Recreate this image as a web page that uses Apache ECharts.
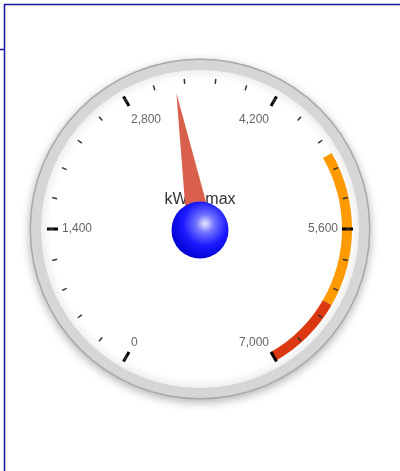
<!DOCTYPE html>
<html>
<head>
<meta charset="utf-8">
<script src="https://cdn.jsdelivr.net/npm/echarts@6/dist/echarts.min.js"></script>
<style>
  html, body { margin: 0; padding: 0; background: #fff; }
  #main { width: 400px; height: 471px; }
</style>
</head>
<body>
<div id="main"></div>
<script>
var chartDom = document.getElementById('main');
var myChart = echarts.init(chartDom);

// 数据
var axisMin = 0;
var axisMax = 7000;
var axisSplits = 5; // 0, 1400, 2800, 4200, 5600, 7000
var needleValue = [3270];
var titleText = 'kW/h max';
var bandFrom = [4900, 6300]; // 色带起点
var bandTo = [6300, 7000]; // 色带终点
var bandColor = ['#ff9900', '#dc3912'];

var cx = 200, cy = 229; // 表盘中心

function fmt(v) { // 千分位
    return String(Math.round(v)).replace(/\B(?=(\d{3})+(?!\d))/g, ',');
}

// 把色带换成 axisLine 的分段颜色
var lineColors = [];
var last = axisMin;
for (var i = 0; i < bandFrom.length; i++) {
    if (bandFrom[i] > last) {
        lineColors.push([(bandFrom[i] - axisMin) / (axisMax - axisMin), 'rgba(0,0,0,0)']);
    }
    lineColors.push([(bandTo[i] - axisMin) / (axisMax - axisMin), bandColor[i]]);
    last = bandTo[i];
}
if (last < axisMax) {
    lineColors.push([1, 'rgba(0,0,0,0)']);
}

var option = {
    animation: false,
    graphic: [
        { // 外圈
            type: 'circle', z: 0,
            shape: { cx: cx, cy: cy, r: 170.5 },
            style: { fill: '#a8a8a8', shadowBlur: 10, shadowColor: 'rgba(0,0,0,0.3)', shadowOffsetY: 3 }
        },
        {
            type: 'circle', z: 0,
            shape: { cx: cx, cy: cy, r: 169 },
            style: { fill: '#d6d6d6' }
        },
        { // 表盘
            type: 'circle', z: 0,
            shape: { cx: cx, cy: cy, r: 159 },
            style: {
                fill: {
                    type: 'radial', x: 0.5, y: 0.5, r: 0.5,
                    colorStops: [
                        { offset: 0, color: '#ffffff' },
                        { offset: 0.94, color: '#ffffff' },
                        { offset: 1, color: '#f0f0f0' }
                    ]
                }
            }
        },
        // 边框线
        { type: 'line', shape: { x1: 4, y1: 4.5, x2: 400, y2: 4.5 }, style: { stroke: '#1414a0', lineWidth: 1.5 } },
        { type: 'line', shape: { x1: 4.5, y1: 4, x2: 4.5, y2: 471 }, style: { stroke: '#1414a0', lineWidth: 1.5 } },
        { type: 'line', shape: { x1: 0, y1: 49.5, x2: 4, y2: 49.5 }, style: { stroke: '#1414a0', lineWidth: 1.5 } }
    ],
    series: [{
        type: 'gauge',
        center: [cx, cy],
        radius: 152,
        startAngle: 240,
        endAngle: -60,
        min: axisMin,
        max: axisMax,
        splitNumber: axisSplits,
        axisLine: {
            lineStyle: { width: 10, color: lineColors }
        },
        splitLine: {
            distance: -11,
            length: 11,
            lineStyle: { color: '#000', width: 3 }
        },
        axisTick: {
            splitNumber: 5,
            distance: -9,
            length: 5,
            lineStyle: { color: '#333', width: 1.5 }
        },
        axisLabel: {
            distance: 14,
            color: '#666',
            fontSize: 12,
            fontFamily: 'Liberation Sans, Arial, sans-serif',
            formatter: function(v) { // 上方两个标签稍微往下
                if (v == 2800 || v == 4200) {
                    return '{t|' + fmt(v) + '}';
                }
                return fmt(v);
            },
            rich: {
                t: { lineHeight: 20, color: '#666', fontSize: 12, fontFamily: 'Liberation Sans, Arial, sans-serif' }
            }
        },
        pointer: {
            icon: 'path://M0,100 L10,100 L5,0 Z',
            length: 138,
            width: 26,
            offsetCenter: [0, 0],
            itemStyle: { color: '#d9604c' }
        },
        anchor: {
            show: true,
            showAbove: true,
            size: 57,
            offsetCenter: [0, 1],
            itemStyle: {
                color: {
                    type: 'radial', x: 0.59, y: 0.39, r: 0.65,
                    colorStops: [
                        { offset: 0, color: '#e8e8ff' },
                        { offset: 0.25, color: '#7070ff' },
                        { offset: 0.6, color: '#1a1aff' },
                        { offset: 1, color: '#0000d0' }
                    ]
                }
            }
        },
        title: {
            show: true,
            offsetCenter: [0, -29],
            color: '#333',
            fontSize: 16,
            fontFamily: 'Liberation Sans, Arial, sans-serif'
        },
        detail: { show: false },
        data: [{ value: needleValue[0], name: titleText }]
    }]
};

option && myChart.setOption(option);
</script>
</body>
</html>
